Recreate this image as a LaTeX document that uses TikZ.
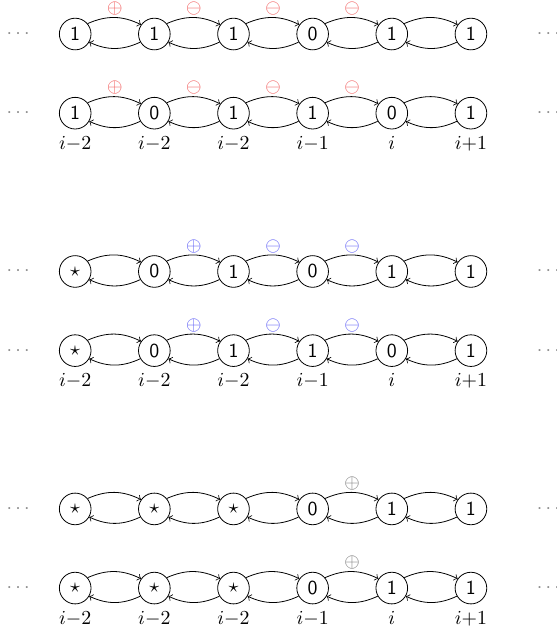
\documentclass[tikz,border=0pt]{standalone}
\usepackage{amsmath}
\usepackage{tikz}
\usetikzlibrary{positioning}
\definecolor{opred}{RGB}{240,90,90}
\definecolor{opblue}{RGB}{90,90,245}
\definecolor{opgray}{RGB}{120,120,120}

\begin{document}
\begin{tikzpicture}[>=to,x=0.7cm,y=0.7cm,
    cell/.style={draw,circle,minimum size=0.56cm,inner sep=0pt,font=\sffamily},
    hop/.style={->,bend left=25},
    idx/.style={inner sep=1pt},
    dots/.style={text=black!45}]
    \useasboundingbox (-1.9,0.86) rectangle (12.15,-15.11);
    % the six rows of cells
    \foreach \v [count=\k] in {1,1,1,0,1,1}
      \node[cell] (a\k) at ({2*(\k-1)},0) {\v};
    \foreach \v [count=\k] in {1,0,1,1,0,1}
      \node[cell] (b\k) at ({2*(\k-1)},-2) {\v};
    \foreach \v [count=\k] in {$\star$,0,1,0,1,1}
      \node[cell] (c\k) at ({2*(\k-1)},-6) {\v};
    \foreach \v [count=\k] in {$\star$,0,1,1,0,1}
      \node[cell] (d\k) at ({2*(\k-1)},-8) {\v};
    \foreach \v [count=\k] in {$\star$,$\star$,$\star$,0,1,1}
      \node[cell] (e\k) at ({2*(\k-1)},-12) {\v};
    \foreach \v [count=\k] in {$\star$,$\star$,$\star$,0,1,1}
      \node[cell] (f\k) at ({2*(\k-1)},-14) {\v};
    % links both ways
    \foreach \r in {a,b,c,d,e,f}
      \foreach \k [count=\n from 2] in {1,...,5} {
        \draw[hop] (\r\k.40) to (\r\n.145);
        \draw[hop] (\r\n.-150) to (\r\k.-30);
      }
    % dots at both ends
    \foreach \r/\y in {a/0,b/-2,c/-6,d/-8,e/-12,f/-14} {
      \node[dots] (\r l) at (-1.4,\y) {$\cdots$};
      \node[dots] (\r r) at (12,\y) {$\cdots$};
    }
    % indices under the second row of each pair
    \foreach \r in {b,d,f}
      \foreach \t [count=\k] in {i{-}2,i{-}2,i{-}2,i{-}1,i,i{+}1}
        \node[idx,below=0.08cm of \r\k] (\r i\k) {$\t$};
    % operators
    \foreach \r/\y in {a/0,b/-2} {
      \node[text=opred] (\r p1) at (1,\y+0.64) {$\oplus$};
      \node[text=opred] (\r p3) at (3,\y+0.64) {$\ominus$};
      \node[text=opred] (\r p5) at (5,\y+0.64) {$\ominus$};
      \node[text=opred] (\r p7) at (7,\y+0.64) {$\ominus$};
    }
    \foreach \r/\y in {c/-6,d/-8} {
      \node[text=opblue] (\r p3) at (3,\y+0.64) {$\oplus$};
      \node[text=opblue] (\r p5) at (5,\y+0.64) {$\ominus$};
      \node[text=opblue] (\r p7) at (7,\y+0.64) {$\ominus$};
    }
    \node[text=opgray] (ep7) at (7,-12+0.64) {$\oplus$};
    \node[text=opgray] (fp7) at (7,-14+0.64) {$\oplus$};
\end{tikzpicture}
\end{document}
